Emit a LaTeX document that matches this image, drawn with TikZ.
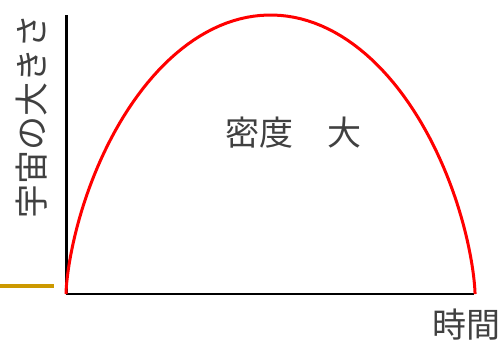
\documentclass[tikz,border=0pt]{standalone}
\usepackage{fontspec}
\newfontfamily\jpfont{Noto Sans CJK JP}
\usepackage{tikz}
\usetikzlibrary{positioning, calc}
\definecolor{gold}{RGB}{204,153,0}
\tikzset{
    % black axes of the plot
    axis/.style={draw=black, line width=2.5pt},
    % size of the universe against time (cycloid)
    curve/.style={draw=red, line width=3pt},
    % japanese labels
    jlabel/.style={font=\jpfont\fontsize{34}{38}\selectfont, text=black!75, inner sep=0pt},
}

\begin{document}
\begin{tikzpicture}[x=1pt, y=-1pt]
    \useasboundingbox (0,0) rectangle (503,341);

    % ---- axes ----
    \coordinate (O)    at (66, 294);
    \coordinate (ytop) at (66, 15);
    \coordinate (xend) at (474, 294);
    \draw[axis, line width=3pt] (ytop) -- (O);
    \draw[axis, line width=2pt] (O) -- (xend);

    % short gold mark left of the axis
    \coordinate (m0) at (0, 286);
    \coordinate (m1) at (54, 286);
    \draw[gold, line width=3.5pt] (m0) -- (m1);

    % ---- expansion and collapse ----
    \draw[curve] plot[domain=0:2*pi, samples=120, variable=\t]
        ({66+65.1*(\t - sin(\t r))}, {294-139.5*(1-cos(\t r))});

    % ---- labels ----
    \node[jlabel, rotate=90] (size) at (32, 116) {宇宙の大きさ};
    \node[jlabel] (dens) at (293, 133) {密度　大};
    \node[jlabel] (time) at (466, 325) {時間};

\end{tikzpicture}
\end{document}
